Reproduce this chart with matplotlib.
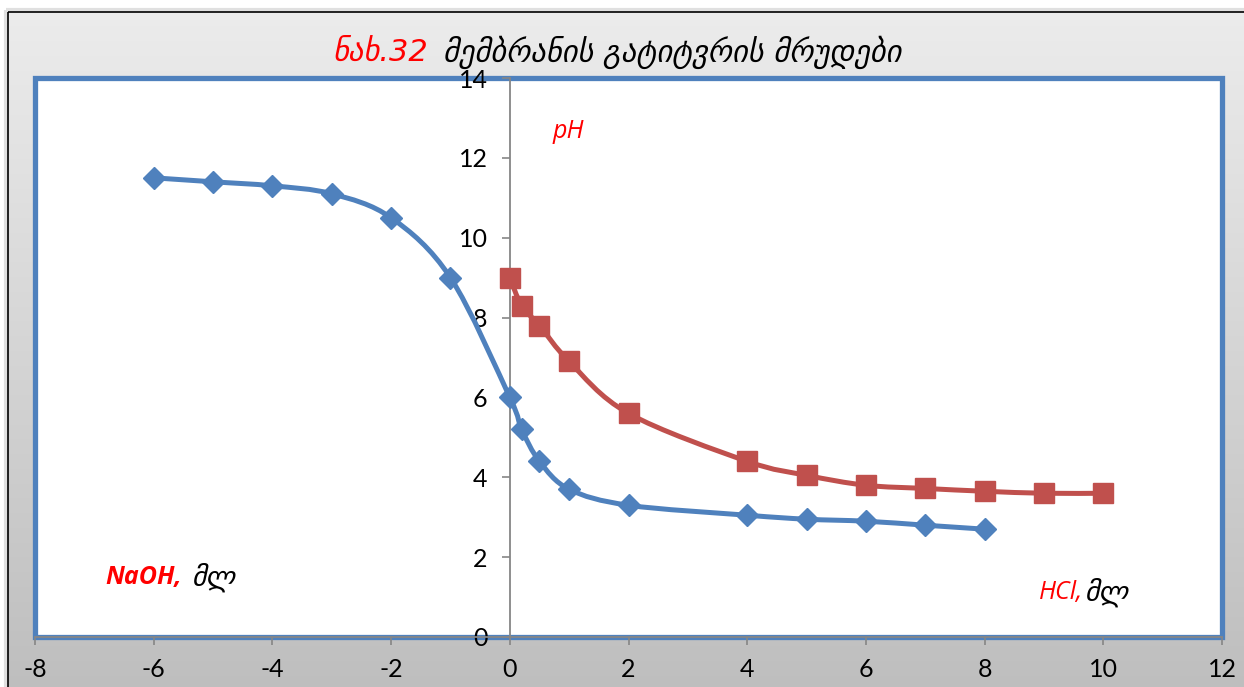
import numpy as np
import matplotlib
matplotlib.use("Agg")
import matplotlib.pyplot as plt
from matplotlib.path import Path
from matplotlib.patches import PathPatch, Rectangle

# NaOH branch (negative x) and HCl branch of the membrane titration curves
naoh_x = [-6, -5, -4, -3, -2, -1, 0, 0.2, 0.5, 1, 2, 4, 5, 6, 7, 8]
naoh_ph = [11.5, 11.4, 11.3, 11.1, 10.5, 9.0, 6.0, 5.2, 4.4, 3.7, 3.3, 3.05, 2.95, 2.9, 2.8, 2.7]

hcl_x = [0, 0.2, 0.5, 1, 2, 4, 5, 6, 7, 8, 9, 10]
hcl_ph = [9.0, 8.3, 7.8, 6.9, 5.6, 4.4, 4.05, 3.8, 3.72, 3.65, 3.6, 3.6]

x_ticks = [-8, -6, -4, -2, 0, 2, 4, 6, 8, 10, 12]
y_ticks = [0, 2, 4, 6, 8, 10, 12, 14]

BLUE = "#4F81BD"
RED = "#C0504D"
AXIS_GREY = "#868686"

W, H = 1244, 687
fig = plt.figure(figsize=(W / 100, H / 100), dpi=100)
fig.patch.set_facecolor("white")

# gradient chart-area background with a thin dark border
bg = fig.add_axes([0, 0, 1, 1], zorder=-10)
bg.set_xlim(0, W)
bg.set_ylim(H, 0)
bg.axis("off")
grad = np.linspace(0.925, 0.745, 256).reshape(-1, 1)
bg.imshow(np.dstack([grad, grad, grad]), extent=[8, W + 5, H + 5, 12],
          aspect="auto", interpolation="bilinear")
bg.add_patch(Rectangle((6, 10), W, H, fill=False, ec="#e0e0e0", lw=3))
bg.add_patch(Rectangle((8, 12), W, H, fill=False, ec="black", lw=1.2))

ax = fig.add_axes([35 / W, 1 - 637 / H, (1222 - 35) / W, (637 - 78) / H])
ax.set_facecolor("white")
ax.set_xlim(-8, 12)
ax.set_ylim(0, 14)

# blue plot-area frame
ax.add_patch(Rectangle((0, 0), 1, 1, transform=ax.transAxes, fill=False,
                       ec=BLUE, lw=3.8, clip_on=False, zorder=1))

for s in ["top", "right"]:
    ax.spines[s].set_visible(False)
ax.spines["left"].set_position(("data", 0))
ax.spines["left"].set_color(AXIS_GREY)
ax.spines["left"].set_linewidth(1.3)
ax.spines["bottom"].set_color(AXIS_GREY)
ax.spines["bottom"].set_linewidth(1.3)
ax.spines["left"].set_zorder(2)
ax.spines["bottom"].set_zorder(2)

ax.set_xticks(x_ticks)
ax.set_yticks(y_ticks)
ax.set_xticklabels([str(v) for v in x_ticks])
ax.set_yticklabels([str(v) for v in y_ticks])
ax.tick_params(axis="x", direction="out", length=6, width=1.2, color=AXIS_GREY,
               pad=9, labelsize=18)
ax.tick_params(axis="y", direction="out", length=6, width=1.2, color=AXIS_GREY,
               pad=10, labelsize=18)
for lab in ax.get_xticklabels() + ax.get_yticklabels():
    lab.set_family("Lato")


def smooth_path(xs, ys):
    pts = np.column_stack([xs, ys]).astype(float)
    verts = [pts[0]]
    codes = [Path.MOVETO]
    n = len(pts)
    for i in range(n - 1):
        p0 = pts[i - 1] if i > 0 else pts[i]
        p1 = pts[i]
        p2 = pts[i + 1]
        p3 = pts[i + 2] if i + 2 < n else pts[i + 1]
        c1 = p1 + (p2 - p0) / 6.0
        c2 = p2 - (p3 - p1) / 6.0
        verts += [c1, c2, p2]
        codes += [Path.CURVE4] * 3
    return Path(verts, codes)


ax.add_patch(PathPatch(smooth_path(naoh_x, naoh_ph), fill=False, ec=BLUE,
                       lw=3.6, capstyle="round", joinstyle="round", zorder=3))
ax.add_patch(PathPatch(smooth_path(hcl_x, hcl_ph), fill=False, ec=RED,
                       lw=3.6, capstyle="round", joinstyle="round", zorder=3))
ax.plot(naoh_x, naoh_ph, ls="none", marker="D", ms=11.5, color=BLUE,
        mec=BLUE, zorder=4)
ax.plot(hcl_x, hcl_ph, ls="none", marker="s", ms=14, color=RED,
        mec=RED, zorder=4)

# axis annotations
ax.text(0.98, 12.65, "pH", color="red", fontsize=18, style="italic",
        family="Open Sans", ha="center", va="center")
t1 = ax.text(-6.82, 1.5, "NaOH,", color="red", fontsize=18, style="italic",
             weight="bold", family="Open Sans", ha="left", va="center")
t2 = ax.text(8.92, 1.12, "HCl,", color="red", fontsize=18, style="italic",
             family="Open Sans", ha="left", va="center")

fig.canvas.draw()
r = fig.canvas.get_renderer()
inv = ax.transData.inverted()


def after(t, s, dx=4):
    bb = t.get_window_extent(r)
    x0, _ = inv.transform((bb.x1 + dx, bb.y0))
    _, yc = t.get_position()
    return ax.text(x0, yc, s, color="black", fontsize=20, style="italic",
                   family="DejaVu Sans", ha="left", va="center")


after(t1, "მლ", dx=10)
after(t2, "მლ", dx=1)

# title
title_red = fig.text(333 / W, 1 - 52 / H, "ნახ.32", color="red", fontsize=22,
                     style="italic", family="DejaVu Sans", ha="left",
                     va="center")
fig.canvas.draw()
bb = title_red.get_window_extent(r)
fig.text((bb.x1 + 14) / W, 1 - 52 / H, "მემბრანის გატიტვრის მრუდები",
         color="black", fontsize=22, style="italic", family="DejaVu Sans",
         ha="left", va="center")

fig.savefig("out.png", dpi=100)
